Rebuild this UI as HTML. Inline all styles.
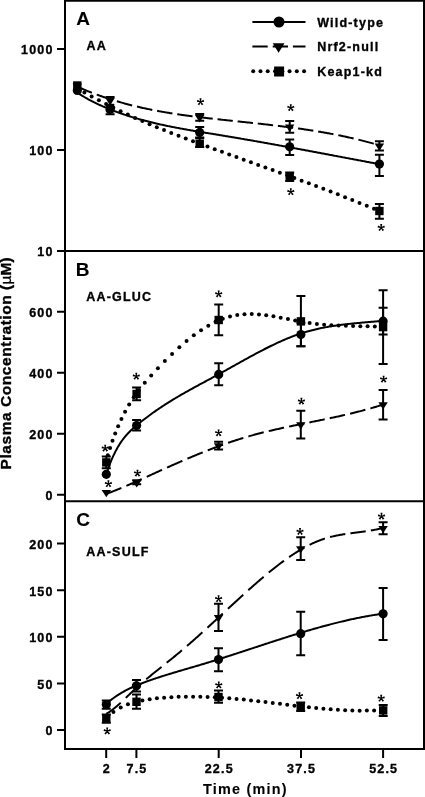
<!DOCTYPE html>
<html><head><meta charset="utf-8"><style>
html,body{margin:0;padding:0;background:#fff;width:425px;height:797px;overflow:hidden}
svg{display:block;will-change:transform}
.t{font-family:"Liberation Sans",sans-serif;font-weight:bold;fill:#000;stroke:#000;stroke-width:0.35}
.fr path{stroke:#000;stroke-width:2;fill:none}
.ln{stroke:#000;stroke-width:2;fill:none}
.ds{stroke:#000;stroke-width:2;fill:none;stroke-dasharray:15.5 5}
.dt{stroke:#000;stroke-width:4;fill:none;stroke-dasharray:0 7.27;stroke-linecap:round}
.ds2{stroke:#000;stroke-width:2;fill:none}
.eb path{stroke:#000;stroke-width:2;fill:none}
.st path{stroke:#000;stroke-width:1.7;fill:none}
</style></head><body>
<svg width="425" height="797" viewBox="0 0 425 797">
<g class="fr">
<path d="M65,0 V749" />
<path d="M424,0 V749" />
<path d="M64,0.75 H425" stroke-width="1.5"/>
<path d="M64,251 H425" />
<path d="M64,501.2 H425" />
<path d="M64,749 H425" />
<path d="M57,48.9 H65 M57,149.9 H65 M57,251 H65 M57,311.8 H65 M57,372.8 H65 M57,433.8 H65 M57,494.8 H65 M57,543.6 H65 M57,590.2 H65 M57,636.8 H65 M57,683.4 H65 M57,730 H65 M106.2,749 V758 M136.4,749 V758 M218.7,749 V758 M301.0,749 V758 M383.1,749 V758"/></g>
<path class="ln" d="M77.30,92.65 L78.30,93.30 L79.30,93.94 L80.30,94.57 L81.30,95.19 L82.30,95.80 L83.30,96.40 L84.30,96.99 L85.30,97.57 L86.30,98.14 L87.30,98.71 L88.30,99.26 L89.30,99.80 L90.30,100.34 L91.30,100.87 L92.30,101.38 L93.30,101.90 L94.30,102.40 L95.30,102.89 L96.30,103.38 L97.30,103.86 L98.30,104.33 L99.30,104.80 L100.30,105.26 L101.30,105.71 L102.30,106.15 L103.30,106.59 L104.30,107.02 L105.30,107.45 L106.30,107.87 L107.30,108.28 L108.30,108.69 L109.30,109.10 L110.30,109.49 L111.30,109.89 L112.30,110.27 L113.30,110.66 L114.30,111.04 L115.30,111.41 L116.30,111.78 L117.30,112.15 L118.30,112.51 L119.30,112.87 L120.30,113.22 L121.30,113.57 L122.30,113.91 L123.30,114.25 L124.30,114.59 L125.30,114.92 L126.30,115.25 L127.30,115.57 L128.30,115.90 L129.30,116.21 L130.30,116.53 L131.30,116.84 L132.30,117.14 L133.30,117.44 L134.30,117.74 L135.30,118.04 L136.30,118.33 L137.30,118.62 L138.30,118.90 L139.30,119.19 L140.30,119.46 L141.30,119.74 L142.30,120.01 L143.30,120.28 L144.30,120.55 L145.30,120.81 L146.30,121.07 L147.30,121.33 L148.30,121.58 L149.30,121.83 L150.30,122.08 L151.30,122.33 L152.30,122.57 L153.30,122.81 L154.30,123.05 L155.30,123.28 L156.30,123.51 L157.30,123.74 L158.30,123.97 L159.30,124.19 L160.30,124.42 L161.30,124.64 L162.30,124.85 L163.30,125.07 L164.30,125.28 L165.30,125.50 L166.30,125.70 L167.30,125.91 L168.30,126.12 L169.30,126.32 L170.30,126.52 L171.30,126.72 L172.30,126.92 L173.30,127.12 L174.30,127.31 L175.30,127.50 L176.30,127.69 L177.30,127.88 L178.30,128.07 L179.30,128.26 L180.30,128.44 L181.30,128.62 L182.30,128.81 L183.30,128.99 L184.30,129.17 L185.30,129.34 L186.30,129.52 L187.30,129.70 L188.30,129.87 L189.30,130.05 L190.30,130.22 L191.30,130.39 L192.30,130.56 L193.30,130.73 L194.30,130.90 L195.30,131.07 L196.30,131.24 L197.30,131.40 L198.30,131.57 L199.30,131.74 L200.30,131.90 L201.30,132.07 L202.30,132.23 L203.30,132.40 L204.30,132.56 L205.30,132.72 L206.30,132.89 L207.30,133.05 L208.30,133.21 L209.30,133.37 L210.30,133.54 L211.30,133.70 L212.30,133.86 L213.30,134.02 L214.30,134.19 L215.30,134.35 L216.30,134.51 L217.30,134.68 L218.30,134.84 L219.30,135.00 L220.30,135.17 L221.30,135.33 L222.30,135.50 L223.30,135.66 L224.30,135.83 L225.30,135.99 L226.30,136.16 L227.30,136.33 L228.30,136.50 L229.30,136.66 L230.30,136.83 L231.30,137.00 L232.30,137.17 L233.30,137.34 L234.30,137.51 L235.30,137.68 L236.30,137.85 L237.30,138.02 L238.30,138.19 L239.30,138.36 L240.30,138.53 L241.30,138.70 L242.30,138.87 L243.30,139.05 L244.30,139.22 L245.30,139.39 L246.30,139.56 L247.30,139.74 L248.30,139.91 L249.30,140.09 L250.30,140.26 L251.30,140.44 L252.30,140.61 L253.30,140.79 L254.30,140.96 L255.30,141.14 L256.30,141.31 L257.30,141.49 L258.30,141.67 L259.30,141.84 L260.30,142.02 L261.30,142.20 L262.30,142.38 L263.30,142.55 L264.30,142.73 L265.30,142.91 L266.30,143.09 L267.30,143.27 L268.30,143.45 L269.30,143.63 L270.30,143.81 L271.30,143.99 L272.30,144.17 L273.30,144.35 L274.30,144.53 L275.30,144.71 L276.30,144.89 L277.30,145.07 L278.30,145.25 L279.30,145.44 L280.30,145.62 L281.30,145.80 L282.30,145.98 L283.30,146.16 L284.30,146.35 L285.30,146.53 L286.30,146.71 L287.30,146.90 L288.30,147.08 L289.30,147.26 L290.30,147.45 L291.30,147.63 L292.30,147.82 L293.30,148.00 L294.30,148.19 L295.30,148.37 L296.30,148.55 L297.30,148.74 L298.30,148.93 L299.30,149.11 L300.30,149.30 L301.30,149.48 L302.30,149.67 L303.30,149.85 L304.30,150.04 L305.30,150.23 L306.30,150.41 L307.30,150.60 L308.30,150.78 L309.30,150.97 L310.30,151.16 L311.30,151.34 L312.30,151.53 L313.30,151.72 L314.30,151.91 L315.30,152.09 L316.30,152.28 L317.30,152.47 L318.30,152.66 L319.30,152.84 L320.30,153.03 L321.30,153.22 L322.30,153.41 L323.30,153.60 L324.30,153.78 L325.30,153.97 L326.30,154.16 L327.30,154.35 L328.30,154.54 L329.30,154.72 L330.30,154.91 L331.30,155.10 L332.30,155.29 L333.30,155.48 L334.30,155.67 L335.30,155.86 L336.30,156.04 L337.30,156.23 L338.30,156.42 L339.30,156.61 L340.30,156.80 L341.30,156.99 L342.30,157.18 L343.30,157.37 L344.30,157.56 L345.30,157.74 L346.30,157.93 L347.30,158.12 L348.30,158.31 L349.30,158.50 L350.30,158.69 L351.30,158.88 L352.30,159.07 L353.30,159.26 L354.30,159.44 L355.30,159.63 L356.30,159.82 L357.30,160.01 L358.30,160.20 L359.30,160.39 L360.30,160.58 L361.30,160.77 L362.30,160.95 L363.30,161.14 L364.30,161.33 L365.30,161.52 L366.30,161.71 L367.30,161.90 L368.30,162.08 L369.30,162.27 L370.30,162.46 L371.30,162.65 L372.30,162.84 L373.30,163.03 L374.30,163.21 L375.30,163.40 L376.30,163.59 L377.30,163.78 L378.30,163.96 L379.30,164.15 L379.40,164.17"/><path class="ln" d="M106.30,473.83 L107.30,470.91 L108.30,468.11 L109.30,465.44 L110.30,462.89 L111.30,460.46 L112.30,458.14 L113.30,455.93 L114.30,453.83 L115.30,451.82 L116.30,449.91 L117.30,448.10 L118.30,446.37 L119.30,444.73 L120.30,443.16 L121.30,441.68 L122.30,440.26 L123.30,438.91 L124.30,437.63 L125.30,436.40 L126.30,435.23 L127.30,434.12 L128.30,433.04 L129.30,432.01 L130.30,431.02 L131.30,430.07 L132.30,429.14 L133.30,428.24 L134.30,427.37 L135.30,426.51 L136.30,425.66 L137.30,424.83 L138.30,424.00 L139.30,423.19 L140.30,422.38 L141.30,421.57 L142.30,420.78 L143.30,420.00 L144.30,419.22 L145.30,418.45 L146.30,417.68 L147.30,416.93 L148.30,416.18 L149.30,415.44 L150.30,414.70 L151.30,413.98 L152.30,413.26 L153.30,412.54 L154.30,411.84 L155.30,411.13 L156.30,410.44 L157.30,409.75 L158.30,409.07 L159.30,408.39 L160.30,407.72 L161.30,407.05 L162.30,406.39 L163.30,405.74 L164.30,405.09 L165.30,404.45 L166.30,403.81 L167.30,403.17 L168.30,402.54 L169.30,401.92 L170.30,401.30 L171.30,400.68 L172.30,400.07 L173.30,399.47 L174.30,398.86 L175.30,398.26 L176.30,397.67 L177.30,397.08 L178.30,396.49 L179.30,395.90 L180.30,395.32 L181.30,394.74 L182.30,394.17 L183.30,393.59 L184.30,393.02 L185.30,392.46 L186.30,391.89 L187.30,391.33 L188.30,390.77 L189.30,390.21 L190.30,389.66 L191.30,389.11 L192.30,388.55 L193.30,388.00 L194.30,387.46 L195.30,386.91 L196.30,386.36 L197.30,385.82 L198.30,385.28 L199.30,384.73 L200.30,384.19 L201.30,383.65 L202.30,383.11 L203.30,382.57 L204.30,382.03 L205.30,381.50 L206.30,380.96 L207.30,380.42 L208.30,379.88 L209.30,379.34 L210.30,378.80 L211.30,378.26 L212.30,377.72 L213.30,377.18 L214.30,376.64 L215.30,376.09 L216.30,375.55 L217.30,375.00 L218.30,374.46 L219.30,373.91 L220.30,373.36 L221.30,372.81 L222.30,372.25 L223.30,371.70 L224.30,371.15 L225.30,370.59 L226.30,370.03 L227.30,369.48 L228.30,368.92 L229.30,368.36 L230.30,367.80 L231.30,367.24 L232.30,366.68 L233.30,366.12 L234.30,365.56 L235.30,365.00 L236.30,364.44 L237.30,363.88 L238.30,363.32 L239.30,362.77 L240.30,362.21 L241.30,361.65 L242.30,361.09 L243.30,360.54 L244.30,359.98 L245.30,359.43 L246.30,358.88 L247.30,358.33 L248.30,357.78 L249.30,357.23 L250.30,356.68 L251.30,356.14 L252.30,355.60 L253.30,355.05 L254.30,354.52 L255.30,353.98 L256.30,353.44 L257.30,352.91 L258.30,352.38 L259.30,351.85 L260.30,351.33 L261.30,350.81 L262.30,350.29 L263.30,349.77 L264.30,349.26 L265.30,348.75 L266.30,348.24 L267.30,347.74 L268.30,347.24 L269.30,346.74 L270.30,346.25 L271.30,345.76 L272.30,345.28 L273.30,344.80 L274.30,344.32 L275.30,343.85 L276.30,343.38 L277.30,342.91 L278.30,342.45 L279.30,342.00 L280.30,341.55 L281.30,341.10 L282.30,340.66 L283.30,340.23 L284.30,339.79 L285.30,339.37 L286.30,338.95 L287.30,338.53 L288.30,338.13 L289.30,337.72 L290.30,337.32 L291.30,336.93 L292.30,336.55 L293.30,336.17 L294.30,335.79 L295.30,335.42 L296.30,335.06 L297.30,334.71 L298.30,334.36 L299.30,334.02 L300.30,333.68 L301.30,333.35 L302.30,333.03 L303.30,332.72 L304.30,332.41 L305.30,332.11 L306.30,331.81 L307.30,331.52 L308.30,331.24 L309.30,330.97 L310.30,330.70 L311.30,330.43 L312.30,330.17 L313.30,329.92 L314.30,329.67 L315.30,329.43 L316.30,329.20 L317.30,328.97 L318.30,328.74 L319.30,328.52 L320.30,328.31 L321.30,328.10 L322.30,327.89 L323.30,327.69 L324.30,327.50 L325.30,327.31 L326.30,327.12 L327.30,326.94 L328.30,326.76 L329.30,326.59 L330.30,326.42 L331.30,326.26 L332.30,326.10 L333.30,325.94 L334.30,325.79 L335.30,325.64 L336.30,325.49 L337.30,325.35 L338.30,325.21 L339.30,325.07 L340.30,324.94 L341.30,324.81 L342.30,324.68 L343.30,324.56 L344.30,324.44 L345.30,324.32 L346.30,324.20 L347.30,324.09 L348.30,323.98 L349.30,323.87 L350.30,323.76 L351.30,323.66 L352.30,323.55 L353.30,323.45 L354.30,323.35 L355.30,323.26 L356.30,323.16 L357.30,323.06 L358.30,322.97 L359.30,322.88 L360.30,322.79 L361.30,322.70 L362.30,322.61 L363.30,322.52 L364.30,322.44 L365.30,322.35 L366.30,322.27 L367.30,322.18 L368.30,322.10 L369.30,322.01 L370.30,321.93 L371.30,321.84 L372.30,321.76 L373.30,321.67 L374.30,321.59 L375.30,321.51 L376.30,321.42 L377.30,321.34 L378.30,321.25 L379.30,321.16 L380.30,321.08 L381.30,320.99 L382.30,320.90 L383.10,320.83"/><path class="ln" d="M106.30,703.73 L107.30,702.87 L108.30,702.04 L109.30,701.23 L110.30,700.44 L111.30,699.67 L112.30,698.92 L113.30,698.18 L114.30,697.47 L115.30,696.77 L116.30,696.10 L117.30,695.43 L118.30,694.79 L119.30,694.16 L120.30,693.55 L121.30,692.95 L122.30,692.37 L123.30,691.80 L124.30,691.25 L125.30,690.70 L126.30,690.18 L127.30,689.66 L128.30,689.16 L129.30,688.67 L130.30,688.19 L131.30,687.72 L132.30,687.26 L133.30,686.81 L134.30,686.37 L135.30,685.93 L136.30,685.51 L137.30,685.10 L138.30,684.69 L139.30,684.29 L140.30,683.89 L141.30,683.51 L142.30,683.12 L143.30,682.75 L144.30,682.37 L145.30,682.01 L146.30,681.64 L147.30,681.28 L148.30,680.92 L149.30,680.57 L150.30,680.22 L151.30,679.87 L152.30,679.53 L153.30,679.18 L154.30,678.84 L155.30,678.51 L156.30,678.17 L157.30,677.84 L158.30,677.51 L159.30,677.19 L160.30,676.86 L161.30,676.54 L162.30,676.22 L163.30,675.90 L164.30,675.59 L165.30,675.27 L166.30,674.96 L167.30,674.65 L168.30,674.34 L169.30,674.03 L170.30,673.73 L171.30,673.42 L172.30,673.12 L173.30,672.82 L174.30,672.52 L175.30,672.22 L176.30,671.92 L177.30,671.63 L178.30,671.33 L179.30,671.03 L180.30,670.74 L181.30,670.45 L182.30,670.15 L183.30,669.86 L184.30,669.57 L185.30,669.27 L186.30,668.98 L187.30,668.69 L188.30,668.40 L189.30,668.11 L190.30,667.82 L191.30,667.52 L192.30,667.23 L193.30,666.94 L194.30,666.65 L195.30,666.35 L196.30,666.06 L197.30,665.76 L198.30,665.47 L199.30,665.17 L200.30,664.88 L201.30,664.58 L202.30,664.28 L203.30,663.98 L204.30,663.68 L205.30,663.38 L206.30,663.07 L207.30,662.77 L208.30,662.46 L209.30,662.16 L210.30,661.85 L211.30,661.54 L212.30,661.23 L213.30,660.92 L214.30,660.61 L215.30,660.30 L216.30,659.98 L217.30,659.67 L218.30,659.36 L219.30,659.04 L220.30,658.72 L221.30,658.41 L222.30,658.09 L223.30,657.77 L224.30,657.45 L225.30,657.13 L226.30,656.81 L227.30,656.49 L228.30,656.17 L229.30,655.85 L230.30,655.52 L231.30,655.20 L232.30,654.88 L233.30,654.55 L234.30,654.23 L235.30,653.90 L236.30,653.58 L237.30,653.25 L238.30,652.92 L239.30,652.60 L240.30,652.27 L241.30,651.94 L242.30,651.62 L243.30,651.29 L244.30,650.96 L245.30,650.63 L246.30,650.30 L247.30,649.97 L248.30,649.64 L249.30,649.32 L250.30,648.99 L251.30,648.66 L252.30,648.33 L253.30,648.00 L254.30,647.67 L255.30,647.34 L256.30,647.01 L257.30,646.68 L258.30,646.35 L259.30,646.03 L260.30,645.70 L261.30,645.37 L262.30,645.04 L263.30,644.71 L264.30,644.38 L265.30,644.06 L266.30,643.73 L267.30,643.40 L268.30,643.08 L269.30,642.75 L270.30,642.42 L271.30,642.10 L272.30,641.77 L273.30,641.45 L274.30,641.12 L275.30,640.80 L276.30,640.48 L277.30,640.15 L278.30,639.83 L279.30,639.51 L280.30,639.19 L281.30,638.87 L282.30,638.55 L283.30,638.23 L284.30,637.91 L285.30,637.59 L286.30,637.28 L287.30,636.96 L288.30,636.64 L289.30,636.33 L290.30,636.02 L291.30,635.70 L292.30,635.39 L293.30,635.08 L294.30,634.77 L295.30,634.46 L296.30,634.15 L297.30,633.84 L298.30,633.54 L299.30,633.23 L300.30,632.93 L301.30,632.63 L302.30,632.32 L303.30,632.02 L304.30,631.72 L305.30,631.42 L306.30,631.13 L307.30,630.83 L308.30,630.54 L309.30,630.24 L310.30,629.95 L311.30,629.66 L312.30,629.37 L313.30,629.08 L314.30,628.79 L315.30,628.51 L316.30,628.22 L317.30,627.94 L318.30,627.66 L319.30,627.38 L320.30,627.10 L321.30,626.82 L322.30,626.55 L323.30,626.27 L324.30,626.00 L325.30,625.73 L326.30,625.46 L327.30,625.20 L328.30,624.93 L329.30,624.67 L330.30,624.40 L331.30,624.14 L332.30,623.89 L333.30,623.63 L334.30,623.38 L335.30,623.12 L336.30,622.87 L337.30,622.62 L338.30,622.37 L339.30,622.13 L340.30,621.89 L341.30,621.65 L342.30,621.41 L343.30,621.17 L344.30,620.93 L345.30,620.70 L346.30,620.47 L347.30,620.24 L348.30,620.01 L349.30,619.79 L350.30,619.57 L351.30,619.35 L352.30,619.13 L353.30,618.91 L354.30,618.70 L355.30,618.49 L356.30,618.28 L357.30,618.08 L358.30,617.87 L359.30,617.67 L360.30,617.47 L361.30,617.28 L362.30,617.08 L363.30,616.89 L364.30,616.70 L365.30,616.51 L366.30,616.33 L367.30,616.15 L368.30,615.97 L369.30,615.79 L370.30,615.62 L371.30,615.45 L372.30,615.28 L373.30,615.12 L374.30,614.95 L375.30,614.80 L376.30,614.64 L377.30,614.48 L378.30,614.33 L379.30,614.18 L380.30,614.04 L381.30,613.90 L382.30,613.76 L383.30,613.62"/><path class="ds2" d="M77.30,86.65 L78.27,87.08 L79.25,87.52 L80.22,87.94 L81.19,88.36 L82.17,88.78 L83.14,89.20 L84.11,89.61 L85.09,90.01 L86.06,90.41 L87.03,90.81 L88.01,91.21 L88.98,91.60 L89.95,91.98 L90.93,92.37 L91.90,92.75 M96.73,94.57 L97.69,94.92 L98.64,95.27 L99.60,95.61 L100.56,95.95 L101.51,96.29 L102.47,96.62 L103.42,96.95 L104.38,97.28 L105.34,97.60 L106.29,97.92 L107.25,98.24 L108.20,98.55 L109.16,98.86 L110.12,99.17 L111.07,99.47 L112.03,99.77 M116.86,101.25 L117.82,101.53 L118.77,101.81 L119.73,102.08 L120.69,102.36 L121.64,102.63 L122.60,102.89 L123.55,103.16 L124.51,103.42 L125.47,103.68 L126.42,103.94 L127.38,104.19 L128.33,104.44 L129.29,104.69 L130.25,104.93 L131.20,105.18 L132.16,105.42 M136.99,106.59 L137.95,106.81 L138.90,107.04 L139.86,107.26 L140.81,107.47 L141.77,107.69 L142.73,107.90 L143.68,108.11 L144.64,108.32 L145.60,108.52 L146.55,108.73 L147.51,108.93 L148.46,109.13 L149.42,109.32 L150.38,109.52 L151.33,109.71 L152.29,109.90 M157.12,110.83 L158.08,111.01 L159.03,111.18 L159.99,111.36 L160.94,111.53 L161.90,111.70 L162.86,111.87 L163.81,112.04 L164.77,112.20 L165.73,112.37 L166.68,112.53 L167.64,112.69 L168.59,112.84 L169.55,113.00 L170.51,113.16 L171.46,113.31 L172.42,113.46 M177.25,114.20 L178.21,114.34 L179.16,114.48 L180.12,114.62 L181.07,114.76 L182.03,114.90 L182.99,115.03 L183.94,115.17 L184.90,115.30 L185.86,115.43 L186.81,115.56 L187.77,115.69 L188.72,115.82 L189.68,115.95 L190.64,116.07 L191.59,116.20 L192.55,116.32 M197.38,116.93 L198.34,117.05 L199.29,117.17 L200.25,117.28 L201.20,117.40 L202.16,117.51 L203.12,117.62 L204.07,117.74 L205.03,117.85 L205.99,117.96 L206.94,118.07 L207.90,118.18 L208.86,118.29 L209.81,118.40 L210.77,118.51 L211.72,118.61 L212.68,118.72 M217.51,119.25 L218.47,119.35 L219.42,119.46 L220.38,119.56 L221.34,119.66 L222.29,119.77 L223.25,119.87 L224.20,119.97 L225.16,120.07 L226.12,120.17 L227.07,120.28 L228.03,120.38 L228.99,120.48 L229.94,120.58 L230.90,120.68 L231.85,120.78 L232.81,120.88 M237.64,121.39 L238.60,121.49 L239.55,121.59 L240.51,121.69 L241.47,121.79 L242.42,121.89 L243.38,121.99 L244.33,122.09 L245.29,122.19 L246.25,122.29 L247.20,122.39 L248.16,122.49 L249.12,122.60 L250.07,122.70 L251.03,122.80 L251.98,122.90 L252.94,123.00 M257.77,123.53 L258.73,123.63 L259.68,123.74 L260.64,123.84 L261.60,123.95 L262.55,124.05 L263.51,124.16 L264.46,124.27 L265.42,124.37 L266.38,124.48 L267.33,124.59 L268.29,124.70 L269.25,124.81 L270.20,124.92 L271.16,125.03 L272.11,125.14 L273.07,125.25 M277.90,125.82 L278.86,125.94 L279.81,126.06 L280.77,126.17 L281.73,126.29 L282.68,126.41 L283.64,126.53 L284.59,126.65 L285.55,126.77 L286.51,126.89 L287.46,127.01 L288.42,127.14 L289.38,127.26 L290.33,127.39 L291.29,127.51 L292.24,127.64 L293.20,127.77 M298.03,128.43 L298.99,128.57 L299.94,128.70 L300.90,128.84 L301.86,128.98 L302.81,129.11 L303.77,129.25 L304.72,129.39 L305.68,129.54 L306.64,129.68 L307.59,129.82 L308.55,129.97 L309.50,130.12 L310.46,130.27 L311.42,130.42 L312.37,130.57 L313.33,130.72 M318.16,131.51 L319.12,131.67 L320.07,131.83 L321.03,131.99 L321.99,132.16 L322.94,132.32 L323.90,132.49 L324.85,132.66 L325.81,132.83 L326.77,133.00 L327.72,133.17 L328.68,133.35 L329.63,133.53 L330.59,133.70 L331.55,133.88 L332.50,134.07 L333.46,134.25 M338.29,135.20 L339.25,135.39 L340.20,135.59 L341.16,135.79 L342.12,135.98 L343.07,136.18 L344.03,136.39 L344.98,136.59 L345.94,136.80 L346.90,137.01 L347.85,137.22 L348.81,137.43 L349.77,137.64 L350.72,137.86 L351.68,138.07 L352.63,138.29 L353.59,138.52 M358.42,139.67 L359.38,139.90 L360.33,140.14 L361.29,140.38 L362.25,140.62 L363.20,140.86 L364.16,141.10 L365.11,141.35 L366.07,141.60 L367.03,141.85 L367.98,142.10 L368.94,142.36 L369.90,142.62 L370.85,142.88 L371.81,143.14 L372.76,143.41 L373.72,143.67 M378.55,145.06 L379.40,145.31"/><path class="ds2" d="M106.30,493.89 L107.24,493.54 L108.19,493.19 L109.13,492.83 L110.08,492.47 L111.02,492.11 L111.96,491.74 L112.91,491.37 L113.85,491.00 L114.79,490.62 L115.74,490.24 L116.68,489.86 L117.62,489.48 L118.57,489.10 L119.51,488.71 L120.46,488.32 L121.40,487.93 M126.43,485.80 L127.39,485.39 L128.34,484.98 L129.30,484.57 L130.25,484.15 L131.21,483.74 L132.17,483.32 L133.12,482.90 L134.08,482.48 L135.04,482.05 L135.99,481.63 L136.95,481.20 L137.91,480.78 L138.86,480.35 L139.82,479.92 L140.77,479.49 L141.73,479.06 M146.76,476.79 L147.72,476.35 L148.67,475.92 L149.63,475.48 L150.58,475.05 L151.54,474.61 L152.50,474.18 L153.45,473.74 L154.41,473.31 L155.37,472.87 L156.32,472.44 L157.28,472.00 L158.23,471.57 L159.19,471.14 L160.15,470.70 L161.10,470.27 L162.06,469.84 M167.09,467.57 L168.05,467.14 L169.00,466.72 L169.96,466.29 L170.91,465.86 L171.87,465.44 L172.83,465.01 L173.78,464.59 L174.74,464.17 L175.70,463.75 L176.65,463.33 L177.61,462.91 L178.56,462.49 L179.52,462.07 L180.48,461.66 L181.43,461.24 L182.39,460.83 M187.42,458.67 L188.38,458.26 L189.33,457.86 L190.29,457.46 L191.25,457.05 L192.20,456.65 L193.16,456.25 L194.11,455.86 L195.07,455.46 L196.03,455.06 L196.98,454.67 L197.94,454.28 L198.89,453.89 L199.85,453.50 L200.81,453.11 L201.76,452.73 L202.72,452.34 M207.75,450.35 L208.71,449.98 L209.66,449.61 L210.62,449.24 L211.57,448.87 L212.53,448.51 L213.49,448.14 L214.44,447.78 L215.40,447.42 L216.36,447.07 L217.31,446.71 L218.27,446.36 L219.22,446.01 L220.18,445.66 L221.14,445.31 L222.09,444.97 L223.05,444.62 M228.08,442.86 L229.04,442.53 L229.99,442.21 L230.95,441.88 L231.90,441.56 L232.86,441.24 L233.82,440.93 L234.77,440.61 L235.73,440.30 L236.69,439.99 L237.64,439.69 L238.60,439.39 L239.56,439.09 L240.51,438.79 L241.47,438.49 L242.42,438.20 L243.38,437.91 M248.41,436.43 L249.37,436.16 L250.32,435.89 L251.28,435.62 L252.24,435.35 L253.19,435.09 L254.15,434.83 L255.10,434.57 L256.06,434.31 L257.02,434.06 L257.97,433.81 L258.93,433.56 L259.88,433.31 L260.84,433.06 L261.80,432.82 L262.75,432.58 L263.71,432.34 M268.74,431.11 L269.70,430.88 L270.65,430.66 L271.61,430.43 L272.56,430.21 L273.52,429.99 L274.48,429.77 L275.43,429.55 L276.39,429.33 L277.35,429.11 L278.30,428.90 L279.26,428.69 L280.22,428.47 L281.17,428.26 L282.13,428.05 L283.08,427.84 L284.04,427.64 M289.07,426.56 L290.03,426.36 L290.98,426.16 L291.94,425.96 L292.89,425.76 L293.85,425.56 L294.81,425.37 L295.76,425.17 L296.72,424.97 L297.68,424.78 L298.63,424.58 L299.59,424.39 L300.55,424.19 L301.50,424.00 L302.46,423.80 L303.41,423.61 L304.37,423.42 M309.40,422.40 L310.36,422.21 L311.31,422.02 L312.27,421.83 L313.22,421.63 L314.18,421.44 L315.14,421.25 L316.09,421.05 L317.05,420.86 L318.01,420.67 L318.96,420.47 L319.92,420.28 L320.88,420.08 L321.83,419.89 L322.79,419.69 L323.74,419.49 L324.70,419.30 M329.73,418.25 L330.69,418.05 L331.64,417.85 L332.60,417.64 L333.56,417.44 L334.51,417.23 L335.47,417.03 L336.42,416.82 L337.38,416.61 L338.34,416.40 L339.29,416.19 L340.25,415.98 L341.20,415.76 L342.16,415.55 L343.12,415.33 L344.07,415.11 L345.03,414.89 M350.06,413.72 L351.02,413.49 L351.97,413.26 L352.93,413.03 L353.88,412.79 L354.84,412.56 L355.80,412.32 L356.75,412.08 L357.71,411.84 L358.67,411.59 L359.62,411.35 L360.58,411.10 L361.54,410.85 L362.49,410.60 L363.45,410.34 L364.40,410.08 L365.36,409.83 M370.39,408.42 L371.37,408.14 L372.35,407.86 L373.32,407.58 L374.30,407.29 L375.28,407.00 L376.26,406.70 L377.23,406.40 L378.21,406.10 L379.19,405.80 L380.17,405.50 L381.14,405.19 L382.12,404.87 L383.10,404.56"/><path class="ds2" d="M106.30,713.78 L107.26,713.24 L108.22,712.66 L109.18,712.05 L110.13,711.41 L111.09,710.73 L112.05,710.03 L113.01,709.31 L113.97,708.56 L114.93,707.78 L115.89,706.99 L116.85,706.17 L117.80,705.34 L118.76,704.49 L119.72,703.63 L120.68,702.75 M125.80,697.90 L126.76,696.98 L127.71,696.06 L128.67,695.14 L129.62,694.22 L130.58,693.30 L131.54,692.39 L132.49,691.49 L133.45,690.59 L134.41,689.70 L135.36,688.82 L136.32,687.95 L137.28,687.09 L138.23,686.23 L139.19,685.38 L140.14,684.54 L141.10,683.71 M146.22,679.33 L147.18,678.53 L148.13,677.73 L149.09,676.94 L150.05,676.15 L151.00,675.37 L151.96,674.59 L152.91,673.81 L153.87,673.04 L154.83,672.26 L155.78,671.50 L156.74,670.73 L157.69,669.96 L158.65,669.20 L159.61,668.43 L160.56,667.67 L161.52,666.91 M166.64,662.83 L167.60,662.06 L168.55,661.30 L169.51,660.53 L170.47,659.76 L171.42,658.99 L172.38,658.21 L173.33,657.43 L174.29,656.65 L175.25,655.87 L176.20,655.08 L177.16,654.29 L178.12,653.50 L179.07,652.70 L180.03,651.90 L180.98,651.09 L181.94,650.28 M187.06,645.89 L188.02,645.06 L188.97,644.23 L189.93,643.40 L190.88,642.56 L191.84,641.72 L192.80,640.88 L193.75,640.03 L194.71,639.18 L195.67,638.33 L196.62,637.48 L197.58,636.63 L198.53,635.77 L199.49,634.91 L200.45,634.05 L201.40,633.19 L202.36,632.32 M207.48,627.67 L208.44,626.80 L209.39,625.92 L210.35,625.05 L211.31,624.17 L212.26,623.29 L213.22,622.41 L214.17,621.53 L215.13,620.65 L216.09,619.77 L217.04,618.89 L218.00,618.00 L218.95,617.12 L219.91,616.24 L220.87,615.36 L221.82,614.47 L222.78,613.59 M227.90,608.86 L228.86,607.98 L229.81,607.09 L230.77,606.21 L231.73,605.33 L232.68,604.45 L233.64,603.57 L234.59,602.69 L235.55,601.81 L236.51,600.94 L237.46,600.06 L238.42,599.19 L239.38,598.31 L240.33,597.44 L241.29,596.57 L242.24,595.70 L243.20,594.83 M248.32,590.22 L249.28,589.36 L250.23,588.51 L251.19,587.66 L252.15,586.81 L253.10,585.96 L254.06,585.12 L255.01,584.28 L255.97,583.44 L256.93,582.60 L257.88,581.77 L258.84,580.94 L259.80,580.12 L260.75,579.29 L261.71,578.48 L262.66,577.66 L263.62,576.85 M268.74,572.58 L269.70,571.80 L270.65,571.02 L271.61,570.25 L272.56,569.48 L273.52,568.71 L274.48,567.96 L275.43,567.20 L276.39,566.46 L277.35,565.71 L278.30,564.98 L279.26,564.25 L280.22,563.52 L281.17,562.81 L282.13,562.09 L283.08,561.39 L284.04,560.69 M289.16,557.06 L290.12,556.41 L291.07,555.76 L292.03,555.12 L292.99,554.49 L293.94,553.86 L294.90,553.24 L295.85,552.63 L296.81,552.03 L297.77,551.44 L298.72,550.86 L299.68,550.28 L300.64,549.71 L301.59,549.15 L302.55,548.60 L303.50,548.06 L304.46,547.53 M309.58,544.84 L310.54,544.37 L311.49,543.91 L312.45,543.46 L313.41,543.02 L314.36,542.58 L315.32,542.16 L316.27,541.75 L317.23,541.35 L318.19,540.97 L319.14,540.59 L320.10,540.22 L321.06,539.87 L322.01,539.52 L322.97,539.19 L323.92,538.87 L324.88,538.56 M330.00,537.08 L330.96,536.84 L331.91,536.60 L332.87,536.38 L333.83,536.16 L334.78,535.95 L335.74,535.74 L336.69,535.55 L337.65,535.36 L338.61,535.18 L339.56,535.00 L340.52,534.83 L341.48,534.67 L342.43,534.51 L343.39,534.36 L344.34,534.21 L345.30,534.06 M350.42,533.34 L351.38,533.22 L352.33,533.09 L353.29,532.97 L354.25,532.84 L355.20,532.72 L356.16,532.60 L357.11,532.48 L358.07,532.36 L359.03,532.23 L359.98,532.11 L360.94,531.98 L361.90,531.85 L362.85,531.72 L363.81,531.59 L364.76,531.46 L365.72,531.32 M370.84,530.51 L371.80,530.34 L372.76,530.16 L373.72,529.98 L374.67,529.80 L375.63,529.61 L376.59,529.41 L377.55,529.20 L378.51,528.98 L379.47,528.76 L380.42,528.53 L381.38,528.28 L382.34,528.03 L383.30,527.77"/><g fill="#000"><circle cx="77.30" cy="88.26" r="2.0"/><circle cx="84.40" cy="92.39" r="2.0"/><circle cx="91.64" cy="96.44" r="2.0"/><circle cx="98.88" cy="100.34" r="2.0"/><circle cx="106.12" cy="104.10" r="2.0"/><circle cx="113.36" cy="107.73" r="2.0"/><circle cx="120.60" cy="111.23" r="2.0"/><circle cx="127.84" cy="114.62" r="2.0"/><circle cx="135.08" cy="117.90" r="2.0"/><circle cx="142.32" cy="121.07" r="2.0"/><circle cx="149.56" cy="124.16" r="2.0"/><circle cx="156.80" cy="127.17" r="2.0"/><circle cx="164.04" cy="130.10" r="2.0"/><circle cx="171.28" cy="132.96" r="2.0"/><circle cx="178.52" cy="135.77" r="2.0"/><circle cx="185.76" cy="138.53" r="2.0"/><circle cx="193.00" cy="141.24" r="2.0"/><circle cx="200.24" cy="143.93" r="2.0"/><circle cx="207.48" cy="146.59" r="2.0"/><circle cx="214.72" cy="149.23" r="2.0"/><circle cx="221.96" cy="151.86" r="2.0"/><circle cx="229.20" cy="154.48" r="2.0"/><circle cx="236.44" cy="157.09" r="2.0"/><circle cx="243.68" cy="159.69" r="2.0"/><circle cx="250.92" cy="162.30" r="2.0"/><circle cx="258.16" cy="164.90" r="2.0"/><circle cx="265.40" cy="167.51" r="2.0"/><circle cx="272.64" cy="170.12" r="2.0"/><circle cx="279.88" cy="172.74" r="2.0"/><circle cx="287.12" cy="175.37" r="2.0"/><circle cx="294.36" cy="178.02" r="2.0"/><circle cx="301.60" cy="180.69" r="2.0"/><circle cx="308.84" cy="183.37" r="2.0"/><circle cx="316.08" cy="186.07" r="2.0"/><circle cx="323.32" cy="188.81" r="2.0"/><circle cx="330.56" cy="191.56" r="2.0"/><circle cx="337.80" cy="194.35" r="2.0"/><circle cx="345.04" cy="197.18" r="2.0"/><circle cx="352.28" cy="200.03" r="2.0"/><circle cx="359.52" cy="202.93" r="2.0"/><circle cx="366.76" cy="205.87" r="2.0"/><circle cx="374.00" cy="208.85" r="2.0"/></g><g fill="#000"><circle cx="107.84" cy="455.17" r="2.0"/><circle cx="110.07" cy="447.93" r="2.0"/><circle cx="112.51" cy="440.69" r="2.0"/><circle cx="115.19" cy="433.45" r="2.0"/><circle cx="118.16" cy="426.21" r="2.0"/><circle cx="121.45" cy="418.97" r="2.0"/><circle cx="125.09" cy="411.73" r="2.0"/><circle cx="129.16" cy="404.49" r="2.0"/><circle cx="133.75" cy="397.25" r="2.0"/><circle cx="138.94" cy="390.01" r="2.0"/><circle cx="144.78" cy="382.77" r="2.0"/><circle cx="151.18" cy="375.53" r="2.0"/><circle cx="157.88" cy="368.29" r="2.0"/><circle cx="164.86" cy="361.05" r="2.0"/><circle cx="172.09" cy="353.93" r="2.0"/><circle cx="179.33" cy="347.22" r="2.0"/><circle cx="186.57" cy="340.99" r="2.0"/><circle cx="193.81" cy="335.29" r="2.0"/><circle cx="201.05" cy="330.17" r="2.0"/><circle cx="208.29" cy="325.68" r="2.0"/><circle cx="215.53" cy="321.87" r="2.0"/><circle cx="222.77" cy="318.79" r="2.0"/><circle cx="230.01" cy="316.49" r="2.0"/><circle cx="237.25" cy="314.99" r="2.0"/><circle cx="244.49" cy="314.22" r="2.0"/><circle cx="251.73" cy="314.06" r="2.0"/><circle cx="258.97" cy="314.43" r="2.0"/><circle cx="266.21" cy="315.22" r="2.0"/><circle cx="273.45" cy="316.33" r="2.0"/><circle cx="280.69" cy="317.66" r="2.0"/><circle cx="287.93" cy="319.10" r="2.0"/><circle cx="295.17" cy="320.56" r="2.0"/><circle cx="302.41" cy="321.93" r="2.0"/><circle cx="309.65" cy="323.12" r="2.0"/><circle cx="316.89" cy="324.04" r="2.0"/><circle cx="324.13" cy="324.72" r="2.0"/><circle cx="331.37" cy="325.21" r="2.0"/><circle cx="338.61" cy="325.55" r="2.0"/><circle cx="345.85" cy="325.79" r="2.0"/><circle cx="353.09" cy="325.97" r="2.0"/><circle cx="360.33" cy="326.13" r="2.0"/><circle cx="367.57" cy="326.33" r="2.0"/><circle cx="374.81" cy="326.60" r="2.0"/><circle cx="382.05" cy="326.99" r="2.0"/></g><g fill="#000"><circle cx="106.30" cy="717.65" r="2.0"/><circle cx="113.46" cy="711.94" r="2.0"/><circle cx="120.70" cy="707.54" r="2.0"/><circle cx="127.94" cy="704.32" r="2.0"/><circle cx="135.18" cy="702.01" r="2.0"/><circle cx="142.42" cy="700.40" r="2.0"/><circle cx="149.66" cy="699.25" r="2.0"/><circle cx="156.90" cy="698.35" r="2.0"/><circle cx="164.14" cy="697.66" r="2.0"/><circle cx="171.38" cy="697.16" r="2.0"/><circle cx="178.62" cy="696.84" r="2.0"/><circle cx="185.86" cy="696.66" r="2.0"/><circle cx="193.10" cy="696.63" r="2.0"/><circle cx="200.34" cy="696.73" r="2.0"/><circle cx="207.58" cy="696.96" r="2.0"/><circle cx="214.82" cy="697.30" r="2.0"/><circle cx="222.06" cy="697.75" r="2.0"/><circle cx="229.30" cy="698.29" r="2.0"/><circle cx="236.54" cy="698.91" r="2.0"/><circle cx="243.78" cy="699.61" r="2.0"/><circle cx="251.02" cy="700.38" r="2.0"/><circle cx="258.26" cy="701.20" r="2.0"/><circle cx="265.50" cy="702.06" r="2.0"/><circle cx="272.74" cy="702.95" r="2.0"/><circle cx="279.98" cy="703.85" r="2.0"/><circle cx="287.22" cy="704.75" r="2.0"/><circle cx="294.46" cy="705.64" r="2.0"/><circle cx="301.70" cy="706.50" r="2.0"/><circle cx="308.94" cy="707.31" r="2.0"/><circle cx="316.18" cy="708.07" r="2.0"/><circle cx="323.42" cy="708.76" r="2.0"/><circle cx="330.66" cy="709.36" r="2.0"/><circle cx="337.90" cy="709.87" r="2.0"/><circle cx="345.14" cy="710.26" r="2.0"/><circle cx="352.38" cy="710.52" r="2.0"/><circle cx="359.62" cy="710.64" r="2.0"/><circle cx="366.86" cy="710.61" r="2.0"/><circle cx="374.10" cy="710.41" r="2.0"/><circle cx="381.34" cy="710.02" r="2.0"/></g>
<g class="eb"><path d="M199.70,127.00 V137.60 M195.20,127.00 H204.20 M195.20,137.60 H204.20"/><path d="M289.70,139.60 V155.00 M285.20,139.60 H294.20 M285.20,155.00 H294.20"/><path d="M379.40,154.70 V175.90 M374.90,154.70 H383.90 M374.90,175.90 H383.90"/><path d="M199.70,113.90 V120.80 M195.20,113.90 H204.20 M195.20,120.80 H204.20"/><path d="M289.70,121.10 V132.70 M285.20,121.10 H294.20 M285.20,132.70 H294.20"/><path d="M379.40,141.20 V150.60 M374.90,141.20 H383.90 M374.90,150.60 H383.90"/><path d="M199.70,138.20 V147.00 M195.20,138.20 H204.20 M195.20,147.00 H204.20"/><path d="M289.70,172.50 V181.00 M285.20,172.50 H294.20 M285.20,181.00 H294.20"/><path d="M379.40,204.10 V218.80 M374.90,204.10 H383.90 M374.90,218.80 H383.90"/><path d="M110.10,97.00 V114.30 M105.60,97.00 H114.60 M105.60,114.30 H114.60"/><path d="M136.60,420.00 V430.50 M132.10,420.00 H141.10 M132.10,430.50 H141.10"/><path d="M218.70,363.30 V385.30 M214.20,363.30 H223.20 M214.20,385.30 H223.20"/><path d="M300.90,322.70 V346.30 M296.40,322.70 H305.40 M296.40,346.30 H305.40"/><path d="M383.10,307.70 V334.60 M378.60,307.70 H387.60 M378.60,334.60 H387.60"/><path d="M300.80,410.70 V438.50 M296.30,410.70 H305.30 M296.30,438.50 H305.30"/><path d="M383.10,389.90 V419.40 M378.60,389.90 H387.60 M378.60,419.40 H387.60"/><path d="M218.60,441.80 V449.50 M214.10,441.80 H223.10 M214.10,449.50 H223.10"/><path d="M136.70,480.30 V484.30 M132.20,480.30 H141.20 M132.20,484.30 H141.20"/><path d="M106.30,456.60 V468.30 M101.80,456.60 H110.80 M101.80,468.30 H110.80"/><path d="M136.60,387.50 V400.30 M132.10,387.50 H141.10 M132.10,400.30 H141.10"/><path d="M218.70,304.60 V335.30 M214.20,304.60 H223.20 M214.20,335.30 H223.20"/><path d="M300.90,296.10 V346.30 M296.40,296.10 H305.40 M296.40,346.30 H305.40"/><path d="M383.10,290.30 V363.90 M378.60,290.30 H387.60 M378.60,363.90 H387.60"/><path d="M136.50,679.90 V691.60 M132.00,679.90 H141.00 M132.00,691.60 H141.00"/><path d="M218.50,648.30 V671.20 M214.00,648.30 H223.00 M214.00,671.20 H223.00"/><path d="M300.70,611.70 V655.30 M296.20,611.70 H305.20 M296.20,655.30 H305.20"/><path d="M383.10,587.90 V640.00 M378.60,587.90 H387.60 M378.60,640.00 H387.60"/><path d="M218.50,603.80 V631.10 M214.00,603.80 H223.00 M214.00,631.10 H223.00"/><path d="M300.70,537.20 V560.00 M296.20,537.20 H305.20 M296.20,560.00 H305.20"/><path d="M383.10,522.30 V534.30 M378.60,522.30 H387.60 M378.60,534.30 H387.60"/><path d="M136.50,694.50 V708.70 M132.00,694.50 H141.00 M132.00,708.70 H141.00"/><path d="M218.50,690.50 V702.80 M214.00,690.50 H223.00 M214.00,702.80 H223.00"/><path d="M300.70,702.50 V711.00 M296.20,702.50 H305.20 M296.20,711.00 H305.20"/><path d="M383.20,705.00 V716.00 M378.70,705.00 H387.70 M378.70,716.00 H387.70"/><path d="M106.30,700.50 V708.80 M101.80,700.50 H110.80 M101.80,708.80 H110.80"/><path d="M106.30,714.50 V722.80 M101.80,714.50 H110.80 M101.80,722.80 H110.80"/></g>
<g fill="#000"><circle cx="77.3" cy="90.4" r="4.6"/><circle cx="110.1" cy="109.5" r="4.6"/><circle cx="199.7" cy="132.4" r="4.6"/><circle cx="289.7" cy="146.8" r="4.6"/><circle cx="379.4" cy="164.1" r="4.6"/><path d="M72.60,83.60 L82.00,83.60 L77.30,91.00 Z"/><path d="M105.40,98.10 L114.80,98.10 L110.10,105.50 Z"/><path d="M195.00,115.00 L204.40,115.00 L199.70,122.40 Z"/><path d="M285.00,124.60 L294.40,124.60 L289.70,132.00 Z"/><path d="M374.70,143.50 L384.10,143.50 L379.40,150.90 Z"/><rect x="73.10" y="81.30" width="8.4" height="8.4"/><rect x="105.90" y="103.80" width="8.4" height="8.4"/><rect x="195.50" y="139.60" width="8.4" height="8.4"/><rect x="285.50" y="172.40" width="8.4" height="8.4"/><rect x="375.20" y="206.80" width="8.4" height="8.4"/><circle cx="106.3" cy="474.3" r="4.6"/><circle cx="136.6" cy="425.6" r="4.6"/><circle cx="218.7" cy="374.4" r="4.6"/><circle cx="300.9" cy="334.5" r="4.6"/><circle cx="383.1" cy="321.2" r="4.6"/><path d="M101.60,489.90 L111.00,489.90 L106.30,497.30 Z"/><path d="M132.00,480.20 L141.40,480.20 L136.70,487.60 Z"/><path d="M213.90,443.20 L223.30,443.20 L218.60,450.60 Z"/><path d="M296.10,422.20 L305.50,422.20 L300.80,429.60 Z"/><path d="M378.40,402.20 L387.80,402.20 L383.10,409.60 Z"/><rect x="102.10" y="458.20" width="8.4" height="8.4"/><rect x="132.40" y="389.80" width="8.4" height="8.4"/><rect x="214.50" y="315.80" width="8.4" height="8.4"/><rect x="296.70" y="317.20" width="8.4" height="8.4"/><rect x="378.90" y="322.90" width="8.4" height="8.4"/><circle cx="106.3" cy="704.6" r="4.6"/><circle cx="136.5" cy="685.8" r="4.6"/><circle cx="218.5" cy="659.6" r="4.6"/><circle cx="300.7" cy="633.7" r="4.6"/><circle cx="383.1" cy="613.8" r="4.6"/><path d="M101.60,702.20 L111.00,702.20 L106.30,709.60 Z"/><path d="M131.80,684.10 L141.20,684.10 L136.50,691.50 Z"/><path d="M213.80,615.10 L223.20,615.10 L218.50,622.50 Z"/><path d="M296.00,546.20 L305.40,546.20 L300.70,553.60 Z"/><path d="M378.40,525.90 L387.80,525.90 L383.10,533.30 Z"/><rect x="102.10" y="714.40" width="8.4" height="8.4"/><rect x="132.30" y="697.60" width="8.4" height="8.4"/><rect x="214.30" y="692.80" width="8.4" height="8.4"/><rect x="296.50" y="702.60" width="8.4" height="8.4"/><rect x="379.00" y="706.20" width="8.4" height="8.4"/></g>
<g fill="#000"><path d="M200.93,101.90 L201.50,98.35 L199.50,98.35 L200.07,101.90Z M200.63,102.30 L204.19,101.75 L203.57,99.85 L200.37,101.50Z M200.16,102.15 L201.78,105.36 L203.40,104.18 L200.84,101.65Z M200.16,101.65 L197.60,104.18 L199.22,105.36 L200.84,102.15Z M200.63,101.50 L197.43,99.85 L196.81,101.75 L200.37,102.30Z "/><path d="M291.23,107.75 L291.80,104.20 L289.80,104.20 L290.38,107.75Z M290.93,108.15 L294.49,107.60 L293.87,105.70 L290.67,107.35Z M290.46,108.00 L292.08,111.21 L293.70,110.03 L291.14,107.50Z M290.46,107.50 L287.90,110.03 L289.52,111.21 L291.14,108.00Z M290.93,107.35 L287.73,105.70 L287.11,107.60 L290.67,108.15Z "/><path d="M291.23,191.85 L291.80,188.30 L289.80,188.30 L290.38,191.85Z M290.93,192.25 L294.49,191.70 L293.87,189.80 L290.67,191.45Z M290.46,192.10 L292.08,195.31 L293.70,194.13 L291.14,191.60Z M290.46,191.60 L287.90,194.13 L289.52,195.31 L291.14,192.10Z M290.93,191.45 L287.73,189.80 L287.11,191.70 L290.67,192.25Z "/><path d="M381.62,227.65 L382.20,224.10 L380.20,224.10 L380.77,227.65Z M381.33,228.05 L384.89,227.50 L384.27,225.60 L381.07,227.25Z M380.86,227.90 L382.48,231.11 L384.10,229.93 L381.54,227.40Z M380.86,227.40 L378.30,229.93 L379.92,231.11 L381.54,227.90Z M381.33,227.25 L378.13,225.60 L377.51,227.50 L381.07,228.05Z "/><path d="M105.62,448.30 L106.20,444.75 L104.20,444.75 L104.78,448.30Z M105.33,448.70 L108.89,448.15 L108.27,446.25 L105.07,447.90Z M104.86,448.55 L106.48,451.76 L108.10,450.58 L105.54,448.05Z M104.86,448.05 L102.30,450.58 L103.92,451.76 L105.54,448.55Z M105.33,447.90 L102.13,446.25 L101.51,448.15 L105.07,448.70Z "/><path d="M108.83,483.85 L109.40,480.30 L107.40,480.30 L107.98,483.85Z M108.53,484.25 L112.09,483.70 L111.47,481.80 L108.27,483.45Z M108.06,484.10 L109.68,487.31 L111.30,486.13 L108.74,483.60Z M108.06,483.60 L105.50,486.13 L107.12,487.31 L108.74,484.10Z M108.53,483.45 L105.33,481.80 L104.71,483.70 L108.27,484.25Z "/><path d="M136.73,376.35 L137.30,372.80 L135.30,372.80 L135.88,376.35Z M136.43,376.75 L139.99,376.20 L139.37,374.30 L136.17,375.95Z M135.96,376.60 L137.58,379.81 L139.20,378.63 L136.64,376.10Z M135.96,376.10 L133.40,378.63 L135.02,379.81 L136.64,376.60Z M136.43,375.95 L133.23,374.30 L132.61,376.20 L136.17,376.75Z "/><path d="M137.93,473.20 L138.50,469.65 L136.50,469.65 L137.07,473.20Z M137.63,473.60 L141.19,473.05 L140.57,471.15 L137.37,472.80Z M137.16,473.45 L138.78,476.66 L140.40,475.48 L137.84,472.95Z M137.16,472.95 L134.60,475.48 L136.22,476.66 L137.84,473.45Z M137.63,472.80 L134.43,471.15 L133.81,473.05 L137.37,473.60Z "/><path d="M219.12,294.05 L219.70,290.50 L217.70,290.50 L218.27,294.05Z M218.83,294.45 L222.39,293.90 L221.77,292.00 L218.57,293.65Z M218.36,294.30 L219.98,297.51 L221.60,296.33 L219.04,293.80Z M218.36,293.80 L215.80,296.33 L217.42,297.51 L219.04,294.30Z M218.83,293.65 L215.63,292.00 L215.01,293.90 L218.57,294.45Z "/><path d="M219.03,432.95 L219.60,429.40 L217.60,429.40 L218.17,432.95Z M218.73,433.35 L222.29,432.80 L221.67,430.90 L218.47,432.55Z M218.26,433.20 L219.88,436.41 L221.50,435.23 L218.94,432.70Z M218.26,432.70 L215.70,435.23 L217.32,436.41 L218.94,433.20Z M218.73,432.55 L215.53,430.90 L214.91,432.80 L218.47,433.35Z "/><path d="M301.82,401.30 L302.40,397.75 L300.40,397.75 L300.97,401.30Z M301.53,401.70 L305.09,401.15 L304.47,399.25 L301.27,400.90Z M301.06,401.55 L302.68,404.76 L304.30,403.58 L301.74,401.05Z M301.06,401.05 L298.50,403.58 L300.12,404.76 L301.74,401.55Z M301.53,400.90 L298.33,399.25 L297.71,401.15 L301.27,401.70Z "/><path d="M384.03,379.25 L384.60,375.70 L382.60,375.70 L383.18,379.25Z M383.73,379.65 L387.29,379.10 L386.67,377.20 L383.47,378.85Z M383.26,379.50 L384.88,382.71 L386.50,381.53 L383.94,379.00Z M383.26,379.00 L380.70,381.53 L382.32,382.71 L383.94,379.50Z M383.73,378.85 L380.53,377.20 L379.91,379.10 L383.47,379.65Z "/><path d="M107.62,731.15 L108.20,727.60 L106.20,727.60 L106.78,731.15Z M107.33,731.55 L110.89,731.00 L110.27,729.10 L107.07,730.75Z M106.86,731.40 L108.48,734.61 L110.10,733.43 L107.54,730.90Z M106.86,730.90 L104.30,733.43 L105.92,734.61 L107.54,731.40Z M107.33,730.75 L104.13,729.10 L103.51,731.00 L107.07,731.55Z "/><path d="M219.03,598.90 L219.60,595.35 L217.60,595.35 L218.17,598.90Z M218.73,599.30 L222.29,598.75 L221.67,596.85 L218.47,598.50Z M218.26,599.15 L219.88,602.36 L221.50,601.18 L218.94,598.65Z M218.26,598.65 L215.70,601.18 L217.32,602.36 L218.94,599.15Z M218.73,598.50 L215.53,596.85 L214.91,598.75 L218.47,599.30Z "/><path d="M219.23,685.15 L219.80,681.60 L217.80,681.60 L218.38,685.15Z M218.93,685.55 L222.49,685.00 L221.87,683.10 L218.67,684.75Z M218.46,685.40 L220.08,688.61 L221.70,687.43 L219.14,684.90Z M218.46,684.90 L215.90,687.43 L217.52,688.61 L219.14,685.40Z M218.93,684.75 L215.73,683.10 L215.11,685.00 L218.67,685.55Z "/><path d="M300.43,531.60 L301.00,528.05 L299.00,528.05 L299.57,531.60Z M300.13,532.00 L303.69,531.45 L303.07,529.55 L299.87,531.20Z M299.66,531.85 L301.28,535.06 L302.90,533.88 L300.34,531.35Z M299.66,531.35 L297.10,533.88 L298.72,535.06 L300.34,531.85Z M300.13,531.20 L296.93,529.55 L296.31,531.45 L299.87,532.00Z "/><path d="M299.93,695.85 L300.50,692.30 L298.50,692.30 L299.07,695.85Z M299.63,696.25 L303.19,695.70 L302.57,693.80 L299.37,695.45Z M299.16,696.10 L300.78,699.31 L302.40,698.13 L299.84,695.60Z M299.16,695.60 L296.60,698.13 L298.22,699.31 L299.84,696.10Z M299.63,695.45 L296.43,693.80 L295.81,695.70 L299.37,696.25Z "/><path d="M381.93,516.30 L382.50,512.75 L380.50,512.75 L381.07,516.30Z M381.63,516.70 L385.19,516.15 L384.57,514.25 L381.37,515.90Z M381.16,516.55 L382.78,519.76 L384.40,518.58 L381.84,516.05Z M381.16,516.05 L378.60,518.58 L380.22,519.76 L381.84,516.55Z M381.63,515.90 L378.43,514.25 L377.81,516.15 L381.37,516.70Z "/><path d="M381.62,698.40 L382.20,694.85 L380.20,694.85 L380.77,698.40Z M381.33,698.80 L384.89,698.25 L384.27,696.35 L381.07,698.00Z M380.86,698.65 L382.48,701.86 L384.10,700.68 L381.54,698.15Z M380.86,698.15 L378.30,700.68 L379.92,701.86 L381.54,698.65Z M381.33,698.00 L378.13,696.35 L377.51,698.25 L381.07,698.80Z "/></g>
<g fill="#000">
<path class="ln" d="M252.4,22 H305.5"/><circle cx="279" cy="22" r="5.5"/>
<path class="ds2" d="M252.4,46.5 H267.7 M272.7,46.5 H288 M292.9,46.5 H305.5"/><path d="M272.70,43.20 L284.50,43.20 L278.60,52.80 Z"/>
<circle cx="253.20" cy="71.2" r="2"/><circle cx="260.47" cy="71.2" r="2"/><circle cx="267.74" cy="71.2" r="2"/><circle cx="275.01" cy="71.2" r="2"/><circle cx="282.28" cy="71.2" r="2"/><circle cx="289.55" cy="71.2" r="2"/><circle cx="296.82" cy="71.2" r="2"/><circle cx="304.09" cy="71.2" r="2"/><rect x="274.10" y="66.50" width="10" height="10"/>
</g>

<g class="t" font-size="19" style="stroke-width:0.1"><text x="76.2" y="25.2">A</text><text x="75.7" y="276.3">B</text><text x="76.2" y="526.3">C</text></g>
<g class="t" font-size="12.5" letter-spacing="1.2">
<text x="86.5" y="49.6">AA</text>
<text x="86.3" y="300.8">AA-GLUC</text>
<text x="86.3" y="555.8">AA-SULF</text>
<text x="317.2" y="26.6">Wild-type</text>
<text x="317.2" y="51.2">Nrf2-null</text>
<text x="317.2" y="75.5">Keap1-kd</text>
</g>
<g class="t" font-size="12.5" letter-spacing="1.2" text-anchor="end">
<text x="53.6" y="53.6">1000</text><text x="53.6" y="155.3">100</text><text x="53.6" y="256">10</text>
<text x="53.6" y="317.3">600</text><text x="53.6" y="378.3">400</text><text x="53.6" y="439.3">200</text><text x="53.6" y="500.3">0</text>
<text x="53.6" y="549.1">200</text><text x="53.6" y="595.7">150</text><text x="53.6" y="642.3">100</text><text x="53.6" y="688.9">50</text><text x="53.6" y="735.3">0</text>
</g>
<g class="t" font-size="12.5" letter-spacing="1.2" text-anchor="middle">
<text x="106.8" y="772.6">2</text><text x="137" y="772.6">7.5</text><text x="219.3" y="772.6">22.5</text><text x="301.6" y="772.6">37.5</text><text x="383.7" y="772.6">52.5</text>
</g>
<text class="t" font-size="14.4" letter-spacing="1.25" style="stroke-width:0.1" x="202.9" y="793.6">Time (min)</text>
<text class="t" font-size="15.5" letter-spacing="0.55" transform="translate(11.2,469.4) rotate(-90)" x="0" y="0">Plasma Concentration <tspan letter-spacing="0.1">(<tspan font-weight="normal">µ</tspan>M)</tspan></text>

</svg>
</body></html>
